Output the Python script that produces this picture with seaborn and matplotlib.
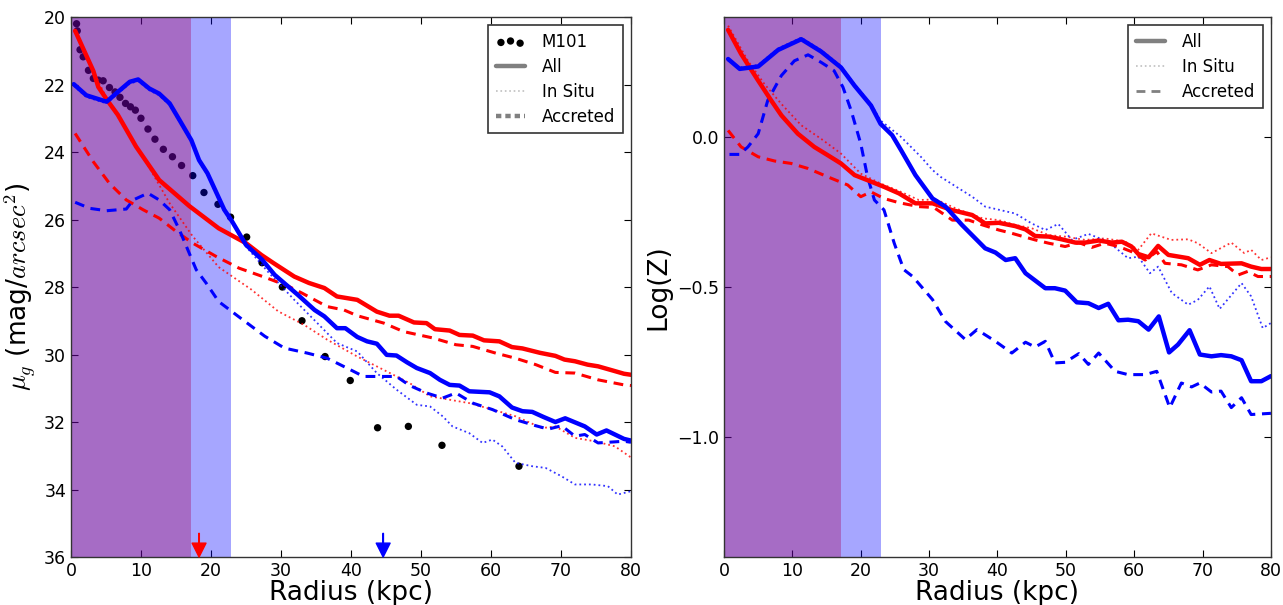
import matplotlib
matplotlib.use("Agg")
import matplotlib.pyplot as plt
import seaborn as sns
from matplotlib.lines import Line2D

# ---- left panel: surface brightness (mag/arcsec^2) ----
m101_r = [0.8, 0.9, 1.3, 1.75, 2.5, 3.2, 3.9, 4.6, 5.5, 6.3, 7.0, 7.8, 8.5, 9.2, 10.0, 11.0, 12.0,
          13.2, 14.5, 15.8, 17.4, 19.0, 21.0, 22.8, 25.1, 27.3, 30.2, 33.0, 36.3, 39.9, 43.8, 48.2,
          53.0, 64.0]
m101_mu = [20.2, 20.41, 20.97, 21.18, 21.58, 21.82, 21.87, 21.89, 22.09, 22.22, 22.38, 22.56, 22.66,
           22.76, 23.0, 23.32, 23.62, 23.92, 24.14, 24.4, 24.7, 25.2, 25.55, 25.93, 26.52, 27.28,
           28.0, 29.0, 30.06, 30.77, 32.17, 32.13, 32.69, 33.31]

red_all_r = [0.6, 3.2, 3.9, 5.3, 6.7, 9.3, 12.6, 16.9, 21.1, 25.0, 27.2, 29.0, 31.9, 34.0, 36.2,
             38.0, 40.9, 43.7, 45.5, 46.8, 49.0, 50.8, 52.0, 54.1, 55.5, 57.4, 59.0, 61.2, 63.0,
             64.5, 67.0, 69.2, 70.5, 72.0, 73.8, 75.3, 77.5, 79.0, 80.0]
red_all_mu = [20.41, 21.6, 22.07, 22.5, 22.9, 23.84, 24.83, 25.6, 26.26, 26.7, 27.05, 27.3, 27.69,
              27.88, 28.03, 28.28, 28.38, 28.73, 28.85, 28.85, 29.05, 29.07, 29.25, 29.29, 29.42,
              29.44, 29.58, 29.61, 29.78, 29.82, 29.95, 30.04, 30.15, 30.2, 30.3, 30.35, 30.48,
              30.57, 30.6]

red_acc_r = [0.6, 3.2, 5.5, 7.9, 10.3, 12.6, 15.0, 17.4, 20.7, 24.0, 27.8, 31.0, 33.0, 36.6, 39.0,
             40.9, 44.7, 47.5, 51.7, 55.0, 57.4, 60.7, 63.5, 66.4, 69.2, 72.0, 75.3, 79.0, 80.0]
red_acc_mu = [23.45, 24.29, 24.93, 25.42, 25.71, 25.96, 26.35, 26.7, 27.09, 27.44, 27.72, 27.97,
              28.18, 28.58, 28.68, 28.85, 29.07, 29.32, 29.51, 29.71, 29.76, 29.96, 30.11, 30.3,
              30.53, 30.55, 30.75, 30.9, 30.92]

red_ins_r = [0.6, 3.2, 5.3, 5.8, 10.3, 14.1, 17.4, 21.1, 25.8, 29.6, 33.3, 36.6, 40.9, 45.1, 48.4,
             51.3, 54.1, 56.9, 60.2, 63.5, 67.3, 69.2, 72.0, 74.8, 77.7, 80.0]
red_ins_mu = [20.41, 21.6, 22.5, 22.66, 24.14, 25.52, 26.5, 27.41, 28.08, 28.72, 29.12, 29.56,
              30.06, 30.5, 30.85, 31.24, 31.34, 31.44, 31.63, 31.83, 32.18, 32.13, 32.47, 32.57,
              32.72, 33.05]

blue_all_r = [0.4, 2.2, 5.1, 6.7, 8.4, 9.6, 11.2, 12.6, 14.1, 15.5, 17.2, 18.3, 19.5, 20.7, 21.9,
              23.0, 25.0, 27.3, 29.1, 32.4, 34.8, 36.2, 38.0, 39.2, 40.9, 42.3, 43.7, 45.1, 46.5,
              48.0, 49.4, 51.3, 52.7, 54.1, 55.5, 56.9, 59.8, 61.2, 63.0, 64.5, 65.9, 67.5, 69.2,
              70.6, 73.4, 75.1, 76.5, 79.0, 80.0]
blue_all_mu = [21.99, 22.32, 22.51, 22.22, 21.92, 21.85, 22.12, 22.27, 22.56, 23.05, 23.65, 24.24,
               24.63, 25.17, 25.71, 26.05, 26.75, 27.19, 27.64, 28.23, 28.68, 28.87, 29.22, 29.22,
               29.48, 29.61, 29.68, 30.01, 30.03, 30.23, 30.4, 30.55, 30.75, 30.9, 30.92, 31.09,
               31.12, 31.24, 31.57, 31.68, 31.7, 31.85, 32.0, 31.89, 32.13, 32.37, 32.25, 32.5,
               32.55]

blue_ins_r = [0.4, 2.2, 5.1, 6.7, 8.4, 9.6, 11.2, 12.6, 14.1, 15.5, 17.2, 18.3, 19.5, 20.7, 21.9,
              23.0, 25.0, 28.1, 31.9, 35.2, 38.0, 40.9, 43.7, 46.5, 49.4, 51.3, 53.1, 54.5, 56.9,
              58.8, 60.2, 61.6, 63.5, 65.9, 67.8, 70.1, 72.0, 74.4, 76.7, 78.1, 80.0]
blue_ins_mu = [22.04, 22.37, 22.56, 22.27, 21.97, 21.9, 22.17, 22.32, 22.61, 23.1, 23.7, 24.29,
               24.68, 25.22, 25.76, 26.1, 26.8, 27.54, 28.38, 29.07, 29.66, 29.91, 30.55, 31.04,
               31.49, 31.54, 31.83, 32.13, 32.33, 32.62, 32.52, 32.72, 33.21, 33.31, 33.36, 33.61,
               33.85, 33.85, 33.9, 34.15, 34.05]

blue_acc_r = [0.6, 2.7, 5.1, 7.9, 8.9, 11.0, 12.6, 14.1, 15.5, 16.7, 17.9, 19.3, 21.1, 23.9, 27.7,
              30.5, 33.8, 36.6, 39.9, 41.8, 43.7, 46.5, 48.4, 50.8, 53.1, 55.0, 57.4, 60.2, 63.5,
              66.4, 68.2, 70.1, 72.0, 73.4, 75.3, 79.0, 80.0]
blue_acc_mu = [25.49, 25.67, 25.74, 25.69, 25.42, 25.22, 25.42, 25.71, 26.31, 26.9, 27.49, 27.88,
               28.43, 28.87, 29.46, 29.81, 29.96, 30.11, 30.45, 30.65, 30.65, 30.65, 30.92, 31.14,
               31.29, 31.14, 31.44, 31.63, 31.93, 32.11, 32.21, 32.11, 32.42, 32.37, 32.62, 32.57,
               32.6]

# ---- right panel: metallicity log(Z) ----
zred_all_r = [0.6, 2.5, 5.0, 6.9, 8.4, 10.8, 13.2, 15.2, 17.1, 19.1, 21.0, 23.4, 25.6, 28.0, 30.5,
              33.4, 36.3, 38.2, 40.2, 42.6, 44.1, 45.5, 47.5, 49.4, 51.4, 52.8, 54.8, 56.7, 58.2,
              59.6, 60.6, 62.1, 63.5, 65.0, 67.9, 69.6, 71.0, 72.7, 75.7, 77.1, 78.6, 80.0]
zred_all = [0.357, 0.277, 0.188, 0.122, 0.072, 0.011, -0.033, -0.061, -0.088, -0.127, -0.144,
            -0.166, -0.188, -0.221, -0.221, -0.244, -0.26, -0.288, -0.286, -0.297, -0.308, -0.33,
            -0.332, -0.341, -0.352, -0.352, -0.345, -0.352, -0.349, -0.365, -0.39, -0.401, -0.363,
            -0.393, -0.404, -0.426, -0.41, -0.423, -0.421, -0.432, -0.44, -0.44]

zred_acc_r = [0.6, 2.5, 5.0, 7.4, 9.8, 12.3, 15.2, 18.1, 20.0, 21.5, 23.4, 25.6, 28.5, 30.7, 33.4,
              35.8, 37.8, 40.2, 42.1, 44.1, 45.5, 47.5, 49.9, 51.9, 53.8, 55.7, 57.7, 59.6, 61.6,
              63.3, 64.5, 66.9, 69.3, 71.3, 73.7, 75.2, 76.6, 78.1, 80.0]
zred_acc = [0.022, -0.033, -0.066, -0.08, -0.088, -0.105, -0.133, -0.16, -0.199, -0.183, -0.205,
            -0.219, -0.232, -0.235, -0.277, -0.277, -0.293, -0.31, -0.321, -0.334, -0.343, -0.354,
            -0.365, -0.352, -0.368, -0.354, -0.365, -0.382, -0.41, -0.382, -0.421, -0.426, -0.443,
            -0.426, -0.432, -0.46, -0.448, -0.465, -0.465]

zred_ins_r = [0.6, 3.5, 5.9, 8.4, 11.3, 14.2, 17.1, 20.0, 22.9, 25.6, 28.5, 31.0, 33.9, 37.8, 40.2,
              42.6, 45.0, 47.5, 49.9, 52.8, 55.7, 58.7, 60.6, 62.5, 65.4, 67.9, 69.3, 71.3, 74.2,
              76.1, 77.1, 78.6, 80.0]
zred_ins = [0.371, 0.254, 0.177, 0.11, 0.039, -0.006, -0.055, -0.122, -0.155, -0.18, -0.21, -0.208,
            -0.238, -0.271, -0.277, -0.293, -0.304, -0.327, -0.332, -0.343, -0.338, -0.349, -0.376,
            -0.321, -0.343, -0.341, -0.354, -0.387, -0.352, -0.387, -0.376, -0.41, -0.401]

zblue_all_r = [0.6, 2.3, 5.0, 7.9, 11.3, 14.2, 17.1, 19.1, 21.5, 22.9, 24.6, 25.9, 28.0, 30.5,
               32.4, 34.8, 38.2, 39.7, 41.2, 42.6, 44.1, 47.0, 48.4, 49.9, 51.6, 53.3, 54.8, 56.2,
               57.7, 59.1, 60.6, 62.1, 63.6, 65.1, 66.4, 68.1, 69.6, 71.3, 72.7, 74.2, 75.7, 77.1,
               78.6, 80.0]
zblue_all = [0.26, 0.227, 0.235, 0.29, 0.326, 0.285, 0.232, 0.171, 0.105, 0.044, 0.006, -0.044,
             -0.127, -0.205, -0.232, -0.293, -0.371, -0.385, -0.41, -0.404, -0.454, -0.504, -0.504,
             -0.512, -0.551, -0.554, -0.57, -0.556, -0.611, -0.609, -0.614, -0.642, -0.598, -0.718,
             -0.692, -0.644, -0.725, -0.731, -0.727, -0.731, -0.744, -0.814, -0.814, -0.797]

zblue_ins_r = [0.6, 2.3, 5.0, 7.9, 11.3, 14.2, 17.1, 19.1, 21.5, 22.9, 25.9, 28.8, 30.5, 31.7, 34.4,
               36.3, 38.2, 42.6, 45.0, 47.0, 48.9, 50.9, 53.3, 56.2, 59.1, 60.6, 62.3, 63.5, 65.5,
               67.9, 69.3, 71.0, 72.5, 75.7, 77.1, 78.8, 80.0]
zblue_ins = [0.255, 0.232, 0.24, 0.295, 0.331, 0.29, 0.237, 0.176, 0.11, 0.055, 0.0, -0.066, -0.11,
             -0.133, -0.172, -0.199, -0.232, -0.255, -0.288, -0.31, -0.29, -0.343, -0.323, -0.349,
             -0.404, -0.399, -0.454, -0.432, -0.52, -0.559, -0.543, -0.498, -0.573, -0.487, -0.531,
             -0.637, -0.62]

zblue_acc_r = [0.8, 2.3, 3.5, 5.0, 6.4, 8.4, 10.3, 12.3, 14.2, 16.1, 17.4, 18.6, 20.0, 21.0, 22.0,
               23.4, 24.9, 26.3, 27.6, 30.5, 32.4, 35.3, 37.0, 39.7, 42.1, 44.1, 45.5, 47.0, 48.4,
               49.9, 51.9, 53.3, 54.8, 57.2, 59.1, 61.6, 63.3, 65.2, 66.9, 68.4, 69.6, 71.3, 72.7,
               74.2, 75.7, 77.1, 80.0]
zblue_acc = [-0.058, -0.058, -0.033, 0.011, 0.122, 0.205, 0.254, 0.274, 0.249, 0.221, 0.166, 0.088,
             -0.022, -0.133, -0.21, -0.243, -0.354, -0.442, -0.465, -0.542, -0.615, -0.675, -0.642,
             -0.681, -0.72, -0.684, -0.7, -0.681, -0.753, -0.751, -0.722, -0.758, -0.72, -0.781,
             -0.792, -0.792, -0.781, -0.902, -0.82, -0.833, -0.82, -0.85, -0.847, -0.902, -0.869,
             -0.925, -0.921]

red_zone = 17.1
blue_zone = 22.9
red_arrow_r = 18.3
blue_arrow_r = 44.6

sns.set_style("white")
plt.rcParams.update({
    "font.family": ["DejaVu Sans"],
    "mathtext.fontset": "cm",
    "text.color": "black", "axes.labelcolor": "black",
    "xtick.direction": "in", "ytick.direction": "in",
    "xtick.top": True, "ytick.right": True,
    "xtick.bottom": True, "ytick.left": True,
    "xtick.major.size": 5, "ytick.major.size": 5,
    "xtick.color": "black", "ytick.color": "black",
    "axes.edgecolor": "#333333", "axes.linewidth": 1.0,
    "xtick.labelsize": 12.5, "ytick.labelsize": 12.5,
})

fig = plt.figure(figsize=(12.83, 6.05), dpi=100)
ax1 = fig.add_axes([0.0553, 0.0793, 0.4365, 0.8926])
ax2 = fig.add_axes([0.5643, 0.0793, 0.4263, 0.8926])

ls_acc = (0, (3.2, 2.2))

for ax in (ax1, ax2):
    ax.axvspan(0, red_zone, color="red", alpha=0.35, lw=0, zorder=1)
    ax.axvspan(0, blue_zone, color="blue", alpha=0.35, lw=0, zorder=1)

# left
sns.scatterplot(x=m101_r, y=m101_mu, ax=ax1, color="black", s=28, edgecolor="none", zorder=0.5,
                label="M101")
dots = ax1.collections[-1]
sns.lineplot(x=red_ins_r, y=red_ins_mu, ax=ax1, color="red", lw=1.3, linestyle=":", alpha=0.8)
sns.lineplot(x=blue_ins_r, y=blue_ins_mu, ax=ax1, color="blue", lw=1.3, linestyle=":", alpha=0.8)
sns.lineplot(x=red_acc_r, y=red_acc_mu, ax=ax1, color="red", lw=2.2, linestyle=ls_acc)
sns.lineplot(x=blue_acc_r, y=blue_acc_mu, ax=ax1, color="blue", lw=2.2, linestyle=ls_acc)
sns.lineplot(x=red_all_r, y=red_all_mu, ax=ax1, color="red", lw=3.2)
sns.lineplot(x=blue_all_r, y=blue_all_mu, ax=ax1, color="blue", lw=3.2)

for r0, c in ((red_arrow_r, "red"), (blue_arrow_r, "blue")):
    ax1.annotate("", xy=(r0, 36), xytext=(r0, 35.3), annotation_clip=False,
                 arrowprops=dict(facecolor=c, edgecolor=c, width=0.4, headwidth=10,
                                 headlength=10, shrink=0))

ax1.set_xlim(0, 80)
ax1.set_ylim(36, 20)
ax1.set_xticks(range(0, 81, 10))
ax1.set_yticks(range(20, 37, 2))
ax1.set_xlabel("Radius (kpc)", fontsize=19, labelpad=0)
ax1.set_ylabel(r"$\mu_g$ (mag/$arcsec^2$)", fontsize=19)

gray = "#808080"
leg_kw = dict(loc="upper right", fontsize=12, frameon=True, fancybox=False, framealpha=1,
              edgecolor="#333333", handlelength=1.75, handletextpad=1.0, borderpad=0.45,
              labelspacing=0.42, borderaxespad=0.5)
h_all = Line2D([], [], color=gray, lw=3.2)
h_ins = Line2D([], [], color=gray, lw=1.2, linestyle=":", alpha=0.5)
h_acc = Line2D([], [], color=gray, lw=3.2, linestyle=(0, (1.2, 0.9)))
leg1 = ax1.legend([dots, h_all, h_ins, h_acc], ["M101", "All", "In Situ", "Accreted"],
                  scatterpoints=3, **leg_kw)
leg1.get_frame().set_linewidth(1.2)

# right
sns.lineplot(x=zred_ins_r, y=zred_ins, ax=ax2, color="red", lw=1.3, linestyle=":", alpha=0.8)
sns.lineplot(x=zblue_ins_r, y=zblue_ins, ax=ax2, color="blue", lw=1.3, linestyle=":", alpha=0.8)
sns.lineplot(x=zred_acc_r, y=zred_acc, ax=ax2, color="red", lw=2.2, linestyle=ls_acc)
sns.lineplot(x=zblue_acc_r, y=zblue_acc, ax=ax2, color="blue", lw=2.2, linestyle=ls_acc)
sns.lineplot(x=zred_all_r, y=zred_all, ax=ax2, color="red", lw=3.2)
sns.lineplot(x=zblue_all_r, y=zblue_all, ax=ax2, color="blue", lw=3.2)

ax2.set_xlim(0, 80)
ax2.set_ylim(-1.4, 0.4)
ax2.set_xticks(range(0, 81, 10))
ax2.set_yticks([-1.0, -0.5, 0.0])
ax2.set_xlabel("Radius (kpc)", fontsize=19, labelpad=0)
ax2.set_ylabel("Log(Z)", fontsize=19)

h_acc2 = Line2D([], [], color=gray, lw=2.0, linestyle=ls_acc)
leg2 = ax2.legend([h_all, h_ins, h_acc2], ["All", "In Situ", "Accreted"], **leg_kw)
leg2.get_frame().set_linewidth(1.2)

fig.savefig("out.png", dpi=100)
